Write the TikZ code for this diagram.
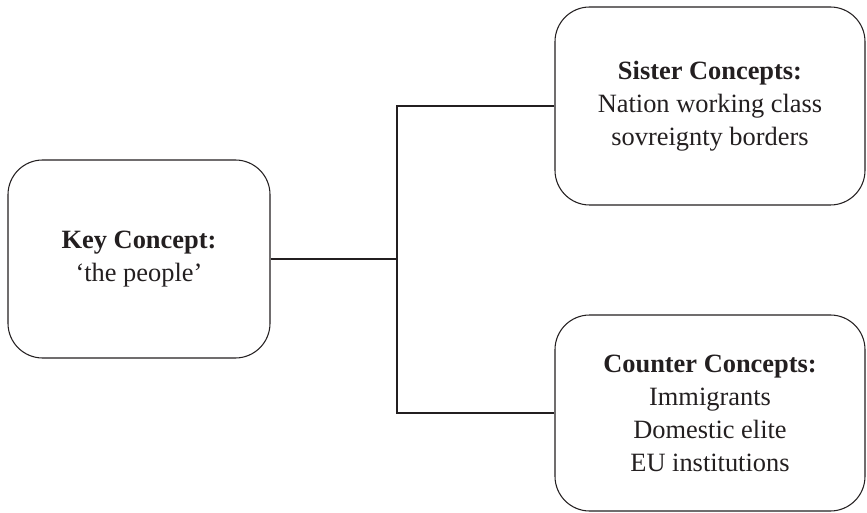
\documentclass[tikz,border=0pt]{standalone}
\usepackage{fontspec}
\setmainfont{Liberation Serif}
\definecolor{ink}{HTML}{231F20}
\begin{document}
\begin{tikzpicture}[x=0.75pt,y=-0.75pt,
  conceptbox/.style={draw=ink, line width=0.8pt, rounded corners=26pt, align=center,
    font=\fontsize{19.8}{24.75}\selectfont, text=ink, inner sep=0pt},
  link/.style={draw=ink, line width=1.1pt}]
\useasboundingbox (0,0) rectangle (867,513);
\node[conceptbox, minimum width=196.5pt, minimum height=148.5pt] (key) at (139,259)
  {\textbf{Key Concept:}\\`the people'};
\node[conceptbox, minimum width=232.5pt, minimum height=148.5pt] (sister) at (710,106)
  {\textbf{Sister Concepts:}\\Nation working class\\sovreignty borders};
\node[conceptbox, minimum width=232.5pt, minimum height=147pt] (counter) at (710,413)
  {\textbf{Counter Concepts:}\\Immigrants\\Domestic elite\\EU institutions};
\coordinate (j) at (397,259);
\draw[link] (key.east) -- (j);
\draw[link] (sister.west) -| (j) |- (counter.west);
\end{tikzpicture}
\end{document}
